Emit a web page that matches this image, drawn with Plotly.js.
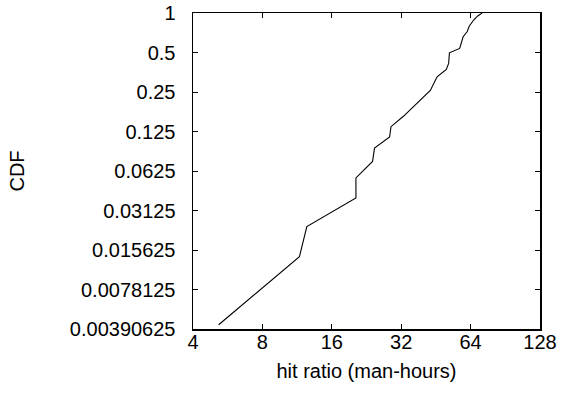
<!DOCTYPE html>
<html>
<head>
<meta charset="utf-8">
<script src="https://cdn.plot.ly/plotly-3.0.1.min.js"></script>
<style>html,body{margin:0;padding:0;background:#fff;}#chart{width:562px;height:395px;}</style>
</head>
<body>
<div id="chart"></div>
<script>
// Hit ratio (man-hours) values and CDF values
var hitRatio = [5.17, 11.58, 12.47, 20.36, 20.36, 24.04, 24.52, 28.5, 28.9, 32.8, 42.8, 45.8, 50.2, 51.4, 51.8, 57.4, 59.4, 61.8, 63.2, 66.0, 68.7, 71.8];
var cdf = [0.00421, 0.0139, 0.0236, 0.0390, 0.0553, 0.0740, 0.0934, 0.1134, 0.136, 0.164, 0.257, 0.326, 0.372, 0.413, 0.497, 0.537, 0.659, 0.720, 0.796, 0.884, 0.949, 1.0];

var xTickVals = [4, 8, 16, 32, 64, 128];
var xTickText = ["4", "8", "16", "32", "64", "128"];
var yTickVals = [0.00390625, 0.0078125, 0.015625, 0.03125, 0.0625, 0.125, 0.25, 0.5, 1];
var yTickText = ["0.00390625", "0.0078125", "0.015625", "0.03125", "0.0625", "0.125", "0.25", "0.5", "1"];

var fontFam = "Liberation Sans, Arial, sans-serif";

var trace = {
  x: hitRatio,
  y: cdf,
  type: "scatter",
  mode: "lines",
  line: {color: "#000", width: 1.1},
  showlegend: false
};

var layout = {
  width: 562,
  height: 395,
  margin: {l: 193, r: 22, t: 13, b: 66},
  paper_bgcolor: "#fff",
  plot_bgcolor: "#fff",
  font: {family: fontFam, size: 20, color: "#000"},
  xaxis: {
    type: "log",
    range: [Math.log10(4), Math.log10(128)],
    tickvals: xTickVals,
    ticktext: xTickText,
    ticks: "inside",
    ticklen: 5,
    tickwidth: 1,
    tickcolor: "#000",
    showline: true,
    linecolor: "#000",
    linewidth: 1.5,
    mirror: "ticks",
    showgrid: false,
    zeroline: false,
    ticklabelstandoff: -6,
    title: {text: "hit ratio (man-hours)", font: {family: fontFam, size: 20}, standoff: 12}
  },
  yaxis: {
    type: "log",
    range: [Math.log10(1/256), 0],
    tickvals: yTickVals,
    ticktext: yTickText,
    ticks: "inside",
    ticklen: 5,
    tickwidth: 1,
    tickcolor: "#000",
    showline: true,
    linecolor: "#000",
    linewidth: 1.5,
    mirror: "ticks",
    showgrid: false,
    zeroline: false,
    ticklabelstandoff: 12,
    title: {text: "CDF", font: {family: fontFam, size: 20}, standoff: 40}
  }
};

Plotly.newPlot("chart", [trace], layout, {staticPlot: true, displayModeBar: false});
</script>
</body>
</html>
